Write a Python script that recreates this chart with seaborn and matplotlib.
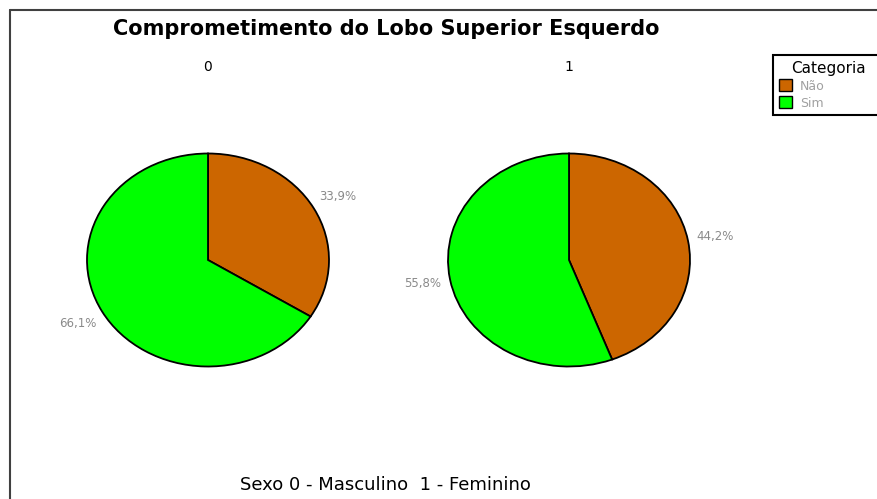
import matplotlib.pyplot as plt
import seaborn as sns
from matplotlib.patches import Patch

# data
categorias = ["Não", "Sim"]
grupos = ["0", "1"]
pct_0 = [33.9, 66.1]
pct_1 = [44.2, 55.8]

sns.set_style("white")
cores = sns.color_palette(["#CC6600", "#00FF00"])

W, H = 877, 499
fig = plt.figure(figsize=(W / 100, H / 100), dpi=100)

# frame around the chart area
fig.add_artist(plt.Line2D([10 / W, 10 / W], [0, 1 - 10 / H], color="#404040", lw=1.5))
fig.add_artist(plt.Line2D([10 / W, 1], [1 - 10 / H, 1 - 10 / H], color="#404040", lw=1.5))


def draw_pie(cx, valores, nome):
    # pie drawn as an ellipse, 242 x 213 px
    pw, ph = 242, 213
    ax = fig.add_axes([(cx - pw / 2) / W, 1 - (260 + ph / 2) / H, pw / W, ph / H])
    wedges, _, autotexts = ax.pie(
        valores, colors=cores, startangle=90, counterclock=False,
        autopct=lambda p: f"{p:.1f}%".replace(".", ","), pctdistance=1.23,
        wedgeprops=dict(edgecolor="black", linewidth=1.3),
        textprops=dict(color="#8a8a8a", fontsize=8.5))
    ax.set_aspect("auto")
    ax.set_xlim(-1.0, 1.0)
    ax.set_ylim(-1.0, 1.0)
    for t in autotexts:
        t.set_clip_on(False)
    fig.text(cx / W, 1 - 67 / H, nome, ha="center", va="center", fontsize=10,
             color="black")
    return ax


draw_pie(208, pct_0, grupos[0])
draw_pie(569, pct_1, grupos[1])

fig.text(386 / W, 1 - 29 / H, "Comprometimento do Lobo Superior Esquerdo",
         ha="center", va="center", fontsize=15, fontweight="bold", color="black")
fig.text(385 / W, 1 - 485 / H, "Sexo 0 - Masculino  1 - Feminino",
         ha="center", va="center", fontsize=13, color="black")

handles = [Patch(facecolor=c, edgecolor="black", linewidth=1) for c in cores]
leg = fig.legend(handles, categorias, title="Categoria", loc="upper left",
                 bbox_to_anchor=(773 / W, 1 - 55 / H, 110 / W, 0), mode="expand",
                 fontsize=9, title_fontsize=11, fancybox=False, framealpha=1,
                 edgecolor="black", handlelength=1.1, handleheight=1.1,
                 handletextpad=0.6, borderpad=0.45, labelspacing=0.3,
                 borderaxespad=0)
leg.get_frame().set_linewidth(1.5)
for t in leg.get_texts():
    t.set_color("#a0a0a0")
leg.get_title().set_color("black")

fig.savefig("out.png", dpi=100)
